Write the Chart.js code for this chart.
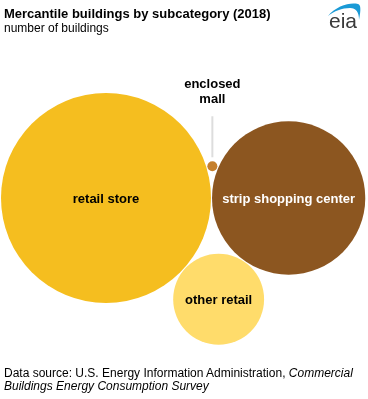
<!DOCTYPE html>
<html>
<head>
<meta charset="utf-8">
<script src="https://cdn.jsdelivr.net/npm/chart.js@4.4.1/dist/chart.umd.min.js"></script>
<style>
  html, body { margin: 0; padding: 0; background: #fff; }
  #wrap { position: relative; width: 368px; height: 399px; overflow: hidden; font-family: Arial, "Liberation Sans", sans-serif; }
  #c { position: absolute; left: 0; top: 0; }
  .t { position: absolute; left: 4px; white-space: nowrap; color: #000; }
  #title { top: 6px; font-size: 13px; font-weight: bold; }
  #sub { top: 21px; font-size: 12px; }
  #foot { top: 367px; font-size: 12px; line-height: 13px; }
  #logo { position: absolute; left: 322px; top: 0px; }
</style>
</head>
<body>
<div id="wrap">
  <canvas id="c" width="368" height="399"></canvas>
  <div class="t" id="title">Mercantile buildings by subcategory (2018)</div>
  <div class="t" id="sub">number of buildings</div>
  <div class="t" id="foot">Data source: U.S. Energy Information Administration, <i>Commercial</i><br><i>Buildings Energy Consumption Survey</i></div>
  <svg id="logo" width="46" height="32" viewBox="0 0 46 32">
    <path d="M6 16 C 14 6, 28 2, 36 4 C 39 5, 39 10, 37 20 C 37 12, 34 8, 28 8 C 20 8, 12 11, 6 16 Z" fill="#1a9ad6"/>
    <text x="7" y="28" font-family="Arial, Liberation Sans, sans-serif" font-size="21" fill="#3a3a3a">eia</text>
  </svg>
</div>
<script>
// ---- data (thousands of buildings, estimated) ----
const categories = ["retail store", "strip shopping center", "other retail", "enclosed mall"];
const buildings  = [443, 236, 83, 1];
const colors     = ["#F5BE1F", "#8C5620", "#FFDC6B", "#C57F2C"];
const labelColors = ["#000000", "#ffffff", "#000000", "#000000"];

// ---- layout: packed bubbles, area proportional to value ----
const W = 368, H = 399;
const maxR = 105;
const radii = buildings.map(v => Math.sqrt(v / buildings[0]) * maxR);
const pad = 1;
const ax = radii[0] + 1, ay = 198;
function tangent(rA, rB, rC, sign) {
  const d = rA + rB + pad, dA = rA + rC + pad, dB = rB + rC + pad;
  const a = (dA * dA - dB * dB + d * d) / (2 * d);
  const h = Math.sqrt(Math.max(0, dA * dA - a * a));
  return { x: ax + a, y: ay + sign * h };
}
const pos = [
  { x: ax, y: ay },
  { x: ax + radii[0] + radii[1] + pad, y: ay },
  tangent(radii[0], radii[1], radii[2], 1),
  tangent(radii[0], radii[1], radii[3], -1)
];
const points = pos.map((p, i) => ({ x: p.x, y: p.y, r: radii[i] }));

const labelPlugin = {
  id: 'bubbleLabels',
  afterDatasetsDraw(chart) {
    const ctx = chart.ctx;
    const meta = chart.getDatasetMeta(0);
    ctx.save();
    ctx.font = 'bold 13px Arial, "Liberation Sans", sans-serif';
    ctx.textAlign = 'center';
    ctx.textBaseline = 'middle';
    meta.data.forEach((el, i) => {
      if (i === 3) {
        const top = el.y - radii[3];
        ctx.strokeStyle = '#dddddd';
        ctx.lineWidth = 2;
        ctx.beginPath();
        ctx.moveTo(el.x, top - 4);
        ctx.lineTo(el.x, top - 45);
        ctx.stroke();
        ctx.fillStyle = labelColors[i];
        ctx.fillText('enclosed', el.x, top - 77);
        ctx.fillText('mall', el.x, top - 62);
      } else {
        ctx.fillStyle = labelColors[i];
        ctx.fillText(categories[i], el.x, el.y + 1);
      }
    });
    ctx.restore();
  }
};

new Chart(document.getElementById('c'), {
  type: 'bubble',
  data: {
    labels: categories,
    datasets: [{
      data: points,
      backgroundColor: colors,
      borderWidth: 0,
      hoverRadius: 0,
      clip: false
    }]
  },
  options: {
    responsive: false,
    animation: false,
    events: [],
    layout: { padding: 0, autoPadding: false },
    plugins: { legend: { display: false }, tooltip: { enabled: false } },
    scales: {
      x: { type: 'linear', min: 0, max: W, display: false },
      y: { type: 'linear', min: 0, max: H, reverse: true, display: false }
    }
  },
  plugins: [labelPlugin]
});
</script>
</body>
</html>
